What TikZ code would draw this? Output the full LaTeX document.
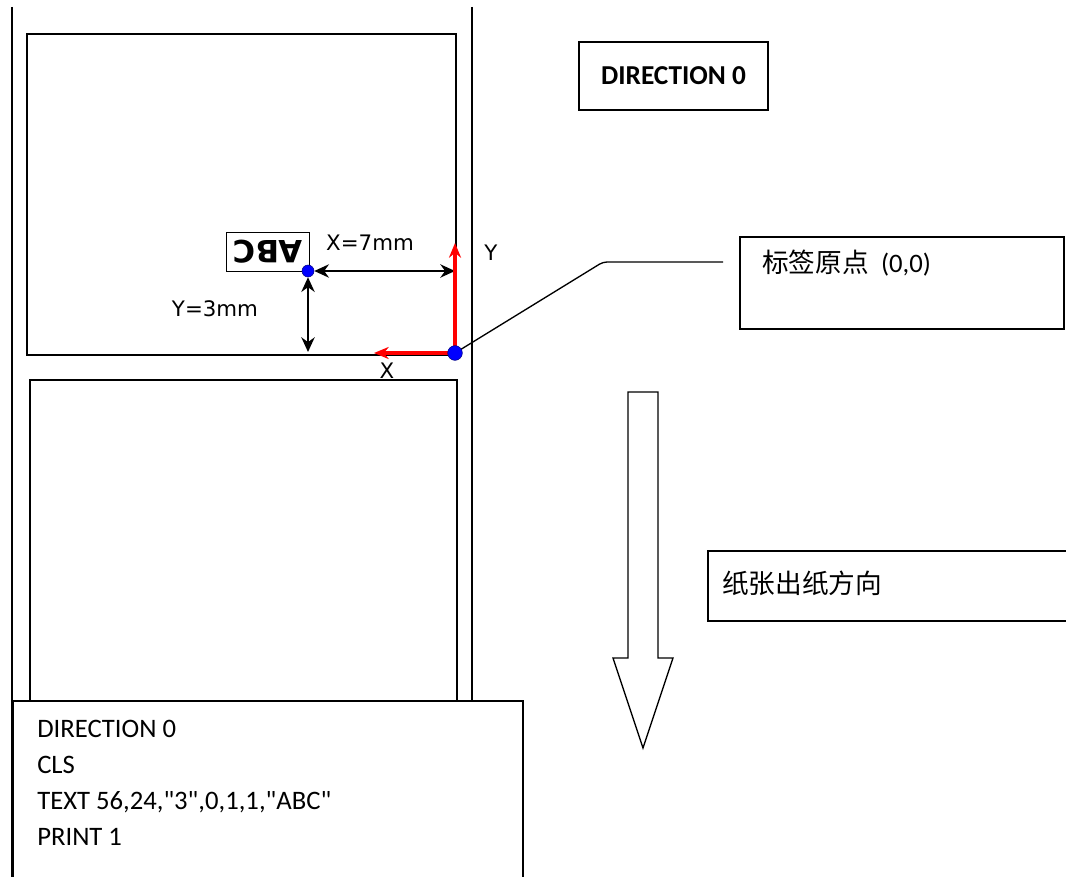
\documentclass[tikz,border=0pt]{standalone}
\usepackage{fontspec}
\setmainfont{Carlito}[Ligatures=TeXOff]
\newfontfamily\cjk{Noto Sans CJK SC}
\newfontfamily\dejavu{DejaVu Sans}
\usetikzlibrary{arrows.meta, positioning, calc}

\begin{document}
\begin{tikzpicture}[
  x=0.75pt, y=-0.75pt,
  edge/.style={line width=1.2pt},
  txtbox/.style={draw, line width=1.2pt, fill=white, inner sep=0pt},
  dimarr/.style={{Stealth[length=11pt,width=10pt]}-{Stealth[length=11pt,width=10pt]}, line width=1.5pt},
  axis/.style={-{Stealth[length=11pt,width=9pt]}, red, line width=2.5pt},
  bluedot/.style={circle, fill=blue, draw=blue!50!black, inner sep=0pt, minimum size=#1},
  dimlabel/.style={font=\dejavu\fontsize{16}{19}\selectfont},
  callfont/.style={font=\fontsize{20}{24}\selectfont, inner sep=0pt}
]
\useasboundingbox (0,0) rectangle (1066,877);

% liner and labels
\draw[edge] (12,7) -- (12,877);
\draw[edge] (472,7) -- (472,877);
\draw[edge] (27,34) rectangle (456,355);
\draw[edge] (30,380) rectangle (457,900);

% text on the label
\node[txtbox, rotate=180, minimum width=62pt, minimum height=29pt,
      font=\dejavu\bfseries\fontsize{23}{27}\selectfont] (abc) at (268,252) {ABC};
\node[bluedot=9pt] (tdot) at (308,271) {};
\coordinate (origin) at (455,353);

\draw[dimarr] (tdot) -- (tdot -| origin);
\draw[dimarr] (tdot) -- ($(tdot |- origin)+(0,-1)$);
\node[dimlabel] (xdist) at (370,243) {X=7mm};
\node[dimlabel] (ydist) at (215,309) {Y=3mm};

% axes at the label origin
\coordinate (yend) at (455,243);
\coordinate (xend) at (374,353);
\coordinate (bend) at (603,262);
\coordinate (callend) at (723,262);
\draw[line width=1pt, rounded corners=3pt] (origin) -- (bend) -- (callend);
\draw[axis] (origin) -- (yend);
\draw[axis] (origin) -- (xend);
\node[bluedot=11pt] (odot) at (origin) {};
\node[dimlabel] (ylbl) at (491,253) {Y};
\node[dimlabel] (xlbl) at (387,371) {X};

% boxes on the right
\node[txtbox, minimum width=141.75pt, minimum height=51pt,
      font=\bfseries\fontsize{20.5}{24}\selectfont] (dirbox) at (673.5,76) {DIRECTION 0};
\node[txtbox, anchor=north west, minimum width=243pt, minimum height=69pt] (originbox) at (739,236) {};
\node[callfont, anchor=west] (origintext) at (762,263) {{\cjk 标签原点}\ \ (0,0)};
\node[txtbox, anchor=north west, minimum width=280pt, minimum height=52.5pt] (feedbox) at (707,550) {};
\node[callfont, anchor=west] (feedtext) at (722,583) {\cjk 纸张出纸方向};

% feed direction arrow
\draw[line width=1pt] (628,392) -- (658,392) -- (658,658) -- (673,658) -- (643,748)
  -- (613,658) -- (628,658) -- cycle;

% command box
\node[txtbox, anchor=north west, minimum width=382.5pt, minimum height=150pt] (cmdbox) at (12,700) {};
\node[anchor=north west, align=left, inner sep=0pt,
      font=\fontsize{20}{27}\selectfont] (cmdtext) at (37,720)
  {DIRECTION 0\\CLS\\TEXT 56,24,"3",0,1,1,"ABC"\\PRINT 1};
\end{tikzpicture}
\end{document}
